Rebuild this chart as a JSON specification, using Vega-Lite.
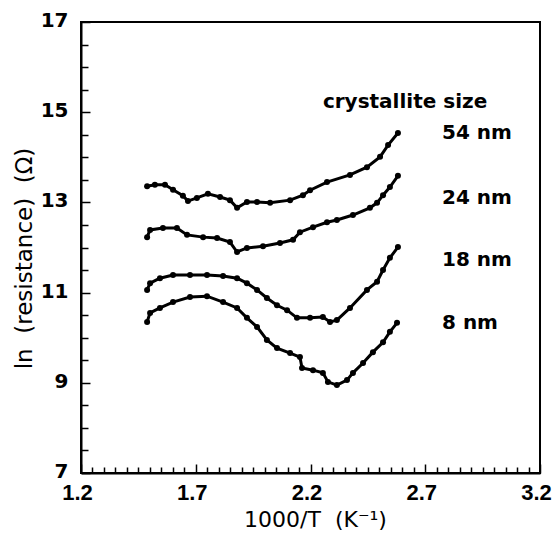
{
  "$schema": "https://vega.github.io/schema/vega-lite/v6.json",
  "autosize": {"type": "none"},
  "padding": {"left": 81, "top": 22, "right": 14, "bottom": 63},
  "width": 459,
  "height": 451,
  "background": "white",
  "config": {
    "view": {"stroke": "black", "strokeWidth": 2},
    "font": "DejaVu Sans"
  },
  "resolve": {"axis": {"x": "independent", "y": "independent"}},
  "data": {"values": [
    {"s": "54 nm", "x": 1.488, "y": 13.36}, {"s": "54 nm", "x": 1.522, "y": 13.39}, {"s": "54 nm", "x": 1.566, "y": 13.39},
    {"s": "54 nm", "x": 1.601, "y": 13.28}, {"s": "54 nm", "x": 1.644, "y": 13.15}, {"s": "54 nm", "x": 1.666, "y": 13.03},
    {"s": "54 nm", "x": 1.705, "y": 13.10}, {"s": "54 nm", "x": 1.753, "y": 13.19}, {"s": "54 nm", "x": 1.806, "y": 13.12},
    {"s": "54 nm", "x": 1.849, "y": 13.05}, {"s": "54 nm", "x": 1.880, "y": 12.88}, {"s": "54 nm", "x": 1.923, "y": 13.01},
    {"s": "54 nm", "x": 1.967, "y": 13.01}, {"s": "54 nm", "x": 2.024, "y": 12.99}, {"s": "54 nm", "x": 2.111, "y": 13.05},
    {"s": "54 nm", "x": 2.167, "y": 13.16}, {"s": "54 nm", "x": 2.198, "y": 13.27}, {"s": "54 nm", "x": 2.272, "y": 13.45},
    {"s": "54 nm", "x": 2.372, "y": 13.61}, {"s": "54 nm", "x": 2.446, "y": 13.78}, {"s": "54 nm", "x": 2.503, "y": 14.01},
    {"s": "54 nm", "x": 2.538, "y": 14.27}, {"s": "54 nm", "x": 2.581, "y": 14.54},

    {"s": "24 nm", "x": 1.488, "y": 12.23}, {"s": "24 nm", "x": 1.501, "y": 12.39}, {"s": "24 nm", "x": 1.557, "y": 12.43},
    {"s": "24 nm", "x": 1.618, "y": 12.43}, {"s": "24 nm", "x": 1.662, "y": 12.28}, {"s": "24 nm", "x": 1.732, "y": 12.23},
    {"s": "24 nm", "x": 1.793, "y": 12.21}, {"s": "24 nm", "x": 1.849, "y": 12.12}, {"s": "24 nm", "x": 1.880, "y": 11.90},
    {"s": "24 nm", "x": 1.923, "y": 11.99}, {"s": "24 nm", "x": 1.993, "y": 12.03}, {"s": "24 nm", "x": 2.067, "y": 12.10},
    {"s": "24 nm", "x": 2.124, "y": 12.17}, {"s": "24 nm", "x": 2.154, "y": 12.34}, {"s": "24 nm", "x": 2.211, "y": 12.45},
    {"s": "24 nm", "x": 2.272, "y": 12.56}, {"s": "24 nm", "x": 2.315, "y": 12.61}, {"s": "24 nm", "x": 2.385, "y": 12.72},
    {"s": "24 nm", "x": 2.459, "y": 12.88}, {"s": "24 nm", "x": 2.490, "y": 12.99}, {"s": "24 nm", "x": 2.516, "y": 13.16},
    {"s": "24 nm", "x": 2.546, "y": 13.34}, {"s": "24 nm", "x": 2.581, "y": 13.59},

    {"s": "18 nm", "x": 1.488, "y": 11.06}, {"s": "18 nm", "x": 1.501, "y": 11.21}, {"s": "18 nm", "x": 1.544, "y": 11.32},
    {"s": "18 nm", "x": 1.601, "y": 11.39}, {"s": "18 nm", "x": 1.675, "y": 11.39}, {"s": "18 nm", "x": 1.749, "y": 11.39},
    {"s": "18 nm", "x": 1.819, "y": 11.37}, {"s": "18 nm", "x": 1.880, "y": 11.32}, {"s": "18 nm", "x": 1.923, "y": 11.21},
    {"s": "18 nm", "x": 1.967, "y": 11.06}, {"s": "18 nm", "x": 2.010, "y": 10.88}, {"s": "18 nm", "x": 2.054, "y": 10.72},
    {"s": "18 nm", "x": 2.098, "y": 10.61}, {"s": "18 nm", "x": 2.141, "y": 10.44}, {"s": "18 nm", "x": 2.198, "y": 10.44},
    {"s": "18 nm", "x": 2.254, "y": 10.46}, {"s": "18 nm", "x": 2.285, "y": 10.35}, {"s": "18 nm", "x": 2.315, "y": 10.39},
    {"s": "18 nm", "x": 2.372, "y": 10.66}, {"s": "18 nm", "x": 2.446, "y": 11.06}, {"s": "18 nm", "x": 2.490, "y": 11.24},
    {"s": "18 nm", "x": 2.516, "y": 11.50}, {"s": "18 nm", "x": 2.546, "y": 11.77}, {"s": "18 nm", "x": 2.581, "y": 12.01},

    {"s": "8 nm", "x": 1.488, "y": 10.35}, {"s": "8 nm", "x": 1.501, "y": 10.55}, {"s": "8 nm", "x": 1.544, "y": 10.66},
    {"s": "8 nm", "x": 1.601, "y": 10.79}, {"s": "8 nm", "x": 1.675, "y": 10.90}, {"s": "8 nm", "x": 1.749, "y": 10.92},
    {"s": "8 nm", "x": 1.819, "y": 10.79}, {"s": "8 nm", "x": 1.880, "y": 10.66}, {"s": "8 nm", "x": 1.923, "y": 10.44},
    {"s": "8 nm", "x": 1.967, "y": 10.24}, {"s": "8 nm", "x": 2.010, "y": 9.95}, {"s": "8 nm", "x": 2.054, "y": 9.77},
    {"s": "8 nm", "x": 2.111, "y": 9.66}, {"s": "8 nm", "x": 2.154, "y": 9.57}, {"s": "8 nm", "x": 2.163, "y": 9.33},
    {"s": "8 nm", "x": 2.211, "y": 9.28}, {"s": "8 nm", "x": 2.254, "y": 9.22}, {"s": "8 nm", "x": 2.276, "y": 9.02},
    {"s": "8 nm", "x": 2.315, "y": 8.95}, {"s": "8 nm", "x": 2.359, "y": 9.06}, {"s": "8 nm", "x": 2.385, "y": 9.22},
    {"s": "8 nm", "x": 2.429, "y": 9.44}, {"s": "8 nm", "x": 2.472, "y": 9.68}, {"s": "8 nm", "x": 2.516, "y": 9.90},
    {"s": "8 nm", "x": 2.546, "y": 10.13}, {"s": "8 nm", "x": 2.577, "y": 10.33}
  ]},
  "layer": [
    {
      "mark": {"type": "line", "color": "black", "strokeWidth": 3},
      "encoding": {
        "detail": {"field": "s"},
        "x": {
          "field": "x", "type": "quantitative",
          "scale": {"domain": [1.2, 3.2], "nice": false, "zero": false},
          "axis": {
            "orient": "bottom",
            "values": [1.2, 1.7, 2.2, 2.7, 3.2],
            "format": ".1f",
            "tickSize": -9,
            "labelPadding": 18,
            "labelOffset": -4,
            "labelFlush": false,
            "labelOverlap": false,
            "grid": false,
            "domainColor": "black", "domainWidth": 2,
            "tickColor": "black", "tickWidth": 1.5,
            "labelFont": "Liberation Sans", "labelFontSize": 22, "labelFontWeight": "bold", "labelColor": "black",
            "title": "1000/T\u00a0\u00a0(K⁻¹)",
            "titleFont": "DejaVu Sans", "titleFontSize": 22, "titleFontWeight": "normal", "titleColor": "black",
            "titleX": 234, "titleY": 46, "titleBaseline": "middle", "titleAlign": "center"
          }
        },
        "y": {
          "field": "y", "type": "quantitative",
          "scale": {"domain": [7, 17], "nice": false, "zero": false},
          "axis": {
            "orient": "left",
            "values": [7, 9, 11, 13, 15, 17],
            "format": "d",
            "tickSize": -9,
            "labelPadding": 22,
            "labelOffset": -1.5,
            "labelFlush": false,
            "labelOverlap": false,
            "grid": false,
            "domainColor": "black", "domainWidth": 2,
            "tickColor": "black", "tickWidth": 1.5,
            "labelFont": "DejaVu Sans", "labelFontSize": 20, "labelFontWeight": "bold", "labelColor": "black",
            "title": "ln\u00a0\u00a0(resistance)\u00a0\u00a0(Ω)",
            "titleFont": "DejaVu Sans", "titleFontSize": 23, "titleFontWeight": "normal", "titleColor": "black",
            "titleAngle": 270,
            "titleX": -57, "titleY": 236, "titleBaseline": "middle", "titleAlign": "center"
          }
        }
      }
    },
    {
      "mark": {"type": "circle", "color": "black", "opacity": 1, "size": 36},
      "encoding": {
        "detail": {"field": "s"},
        "x": {
          "field": "x", "type": "quantitative",
          "scale": {"domain": [1.2, 3.2], "nice": false, "zero": false},
          "axis": {
            "orient": "bottom",
            "values": [1.25,1.3,1.35,1.4,1.45,1.5,1.55,1.6,1.65,1.75,1.8,1.85,1.9,1.95,2.0,2.05,2.1,2.15,2.25,2.3,2.35,2.4,2.45,2.5,2.55,2.6,2.65,2.75,2.8,2.85,2.9,2.95,3.0,3.05,3.1,3.15],
            "tickSize": -6, "tickColor": "black", "tickWidth": 1.5,
            "labels": false, "domain": false, "grid": false, "title": null
          }
        },
        "y": {
          "field": "y", "type": "quantitative",
          "scale": {"domain": [7, 17], "nice": false, "zero": false},
          "axis": {
            "orient": "left",
            "values": [7.5,8,8.5,9.5,10,10.5,11.5,12,12.5,13.5,14,14.5,15.5,16,16.5],
            "tickSize": -7, "tickColor": "black", "tickWidth": 1.5,
            "labels": false, "domain": false, "grid": false, "title": null
          }
        }
      }
    },
    {
      "data": {"values": [
        {"t": "54 nm", "x": 2.773, "y": 14.54},
        {"t": "24 nm", "x": 2.773, "y": 13.10},
        {"t": "18 nm", "x": 2.773, "y": 11.72},
        {"t": "8 nm", "x": 2.773, "y": 10.33}
      ]},
      "mark": {"type": "text", "align": "left", "baseline": "middle", "font": "DejaVu Sans", "fontSize": 20, "fontWeight": "bold", "color": "black"},
      "encoding": {
        "text": {"field": "t"},
        "x": {"field": "x", "type": "quantitative", "axis": null},
        "y": {"field": "y", "type": "quantitative", "axis": null}
      }
    },
    {
      "data": {"values": [
        {"t": "crystallite size", "x": 2.254, "y": 15.1}
      ]},
      "mark": {"type": "text", "align": "left", "baseline": "alphabetic", "font": "DejaVu Sans", "fontSize": 20, "fontWeight": "bold", "color": "black"},
      "encoding": {
        "text": {"field": "t"},
        "x": {"field": "x", "type": "quantitative", "axis": null},
        "y": {"field": "y", "type": "quantitative", "axis": null}
      }
    }
  ]
}
